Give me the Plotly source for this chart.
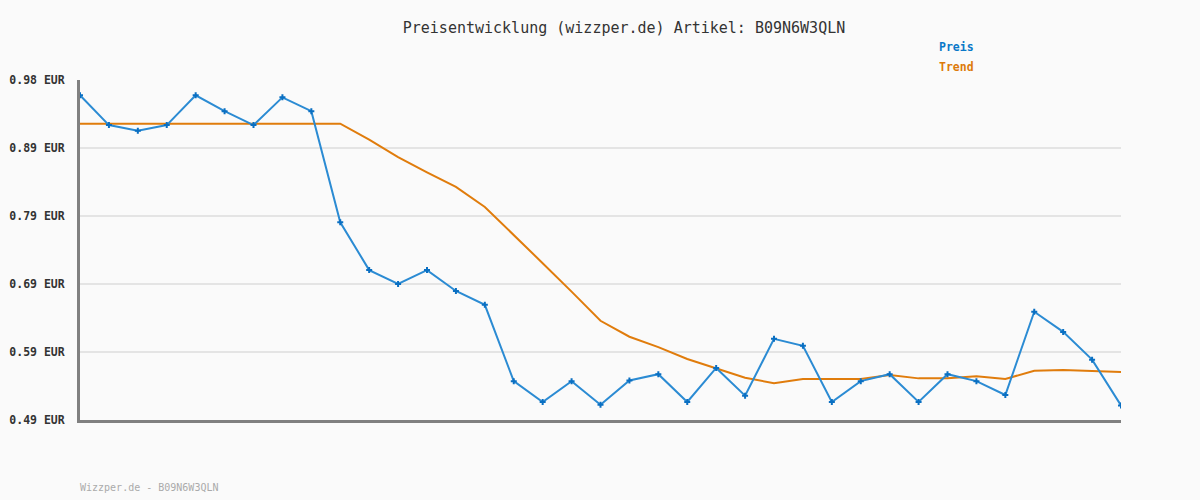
import numpy as np
import plotly.graph_objects as go

# Data
x_idx = list(range(37))
preis = [0.958, 0.915, 0.907, 0.915, 0.958, 0.935, 0.915, 0.955, 0.935, 0.775,
         0.706, 0.686, 0.706, 0.676, 0.656, 0.546, 0.516, 0.546, 0.512, 0.547,
         0.556, 0.516, 0.565, 0.525, 0.607, 0.597, 0.516, 0.546, 0.556, 0.516,
         0.556, 0.546, 0.526, 0.646, 0.617, 0.577, 0.511]
trend = [0.917, 0.917, 0.917, 0.917, 0.917, 0.917, 0.917, 0.917, 0.917, 0.917,
         0.894, 0.869, 0.847, 0.826, 0.797, 0.757, 0.716, 0.675, 0.633, 0.610,
         0.595, 0.578, 0.565, 0.551, 0.543, 0.549, 0.549, 0.549, 0.555, 0.550,
         0.550, 0.553, 0.549, 0.561, 0.562, 0.561, 0.559]
tick_labels = ["0.49 EUR", "0.59 EUR", "0.69 EUR", "0.79 EUR", "0.89 EUR", "0.98 EUR"]
y_min, y_max = 0.49, 0.98
tick_vals = list(np.linspace(y_min, y_max, len(tick_labels)))

MONO = "DejaVu Sans Mono"
BLUE_LINE = "#2b8bd3"
BLUE_MARK = "#0a6fc2"
ORANGE = "#e07c0c"

fig = go.Figure()
fig.add_trace(go.Scatter(x=x_idx, y=trend, mode="lines", name="Trend",
                         line=dict(color=ORANGE, width=2), hoverinfo="skip"))
fig.add_trace(go.Scatter(x=x_idx, y=preis, mode="lines+markers", name="Preis",
                         line=dict(color=BLUE_LINE, width=2),
                         marker=dict(symbol="cross", size=5, color=BLUE_MARK,
                                     line=dict(width=0))))

fig.update_layout(
    width=1200, height=500,
    margin=dict(l=80, r=79, t=80, b=80, autoexpand=False),
    paper_bgcolor="#fafafa", plot_bgcolor="#fafafa",
    showlegend=False,
    title=dict(text="Preisentwicklung (wizzper.de) Artikel: B09N6W3QLN",
               x=0.52, xanchor="center", y=0.944, yanchor="middle",
               font=dict(family=MONO, size=15, color="#333333")),
    font=dict(family=MONO),
)
fig.update_xaxes(range=[0, 36], showgrid=False, showticklabels=False, zeroline=False,
                 showline=True, linecolor="#808080", linewidth=3, ticks="",
                 automargin=False)
fig.update_yaxes(range=[y_min, y_max], tickvals=tick_vals, ticktext=tick_labels,
                 showgrid=True, gridcolor="#e4e4e4", gridwidth=2, zeroline=False,
                 showline=True, linecolor="#808080", linewidth=3, ticks="",
                 ticklabelstandoff=10, automargin=False,
                 tickfont=dict(family=MONO, size=11.5, color="#333333", weight="bold"))

fig.add_annotation(text="<b>Preis</b>", xref="paper", yref="paper",
                   x=(937 - 80) / 1041, y=(420 - 47) / 340, xanchor="left", yanchor="middle",
                   showarrow=False, font=dict(family=MONO, size=11.5, color="#0a78c8"))
fig.add_annotation(text="<b>Trend</b>", xref="paper", yref="paper",
                   x=(937 - 80) / 1041, y=(420 - 67) / 340, xanchor="left", yanchor="middle",
                   showarrow=False, font=dict(family=MONO, size=11.5, color="#dd7a0a"))
fig.add_annotation(text="Wizzper.de - B09N6W3QLN", xref="paper", yref="paper",
                   x=-2.5 / 1041, y=(420 - 487) / 340, xanchor="left", yanchor="middle",
                   showarrow=False, font=dict(family=MONO, size=10, color="#aaaaaa"))

fig.write_html("out.html", config={"displayModeBar": False},
               post_script="document.body.style.margin='0';"
                           "document.body.style.background='#fafafa';")
